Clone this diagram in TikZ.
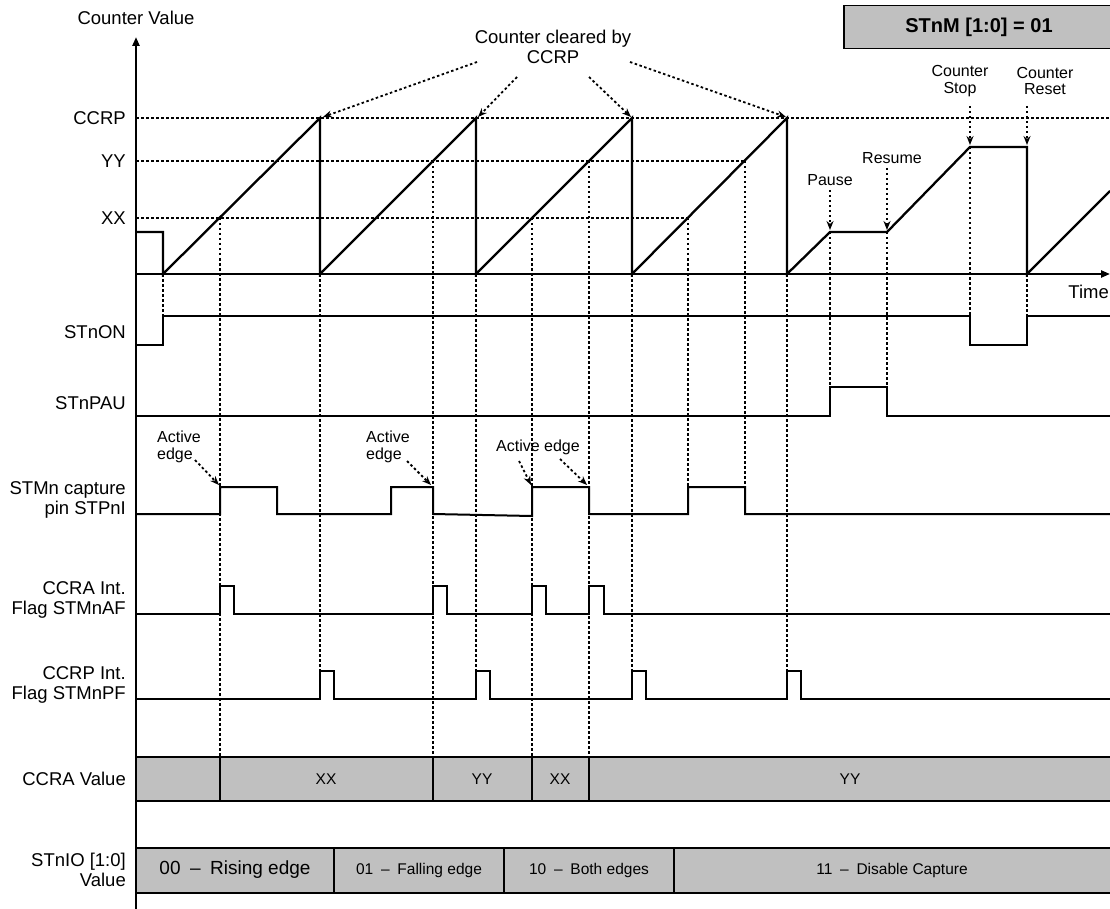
\documentclass[tikz,border=0pt]{standalone}
\usepackage{fontspec}
\setmainfont{Liberation Sans}
\usetikzlibrary{arrows.meta}
\definecolor{boxgray}{RGB}{192,192,192}

\begin{document}
\begin{tikzpicture}[
    x=1pt, y=-1pt,
    axis/.style={line width=2.2pt, -{Triangle[length=9pt,width=7pt]}},
    ramp/.style={line width=2.3pt},
    sig/.style={line width=2pt},
    guide/.style={line width=1.8pt, dash pattern=on 2.5pt off 2.5pt},
    pointer/.style={line width=1.8pt, dash pattern=on 2.5pt off 2.5pt,
                    -{Stealth[length=9pt,width=7pt]}},
    lbl/.style={font=\fontsize{18.5}{20}\selectfont, align=right, anchor=east, inner sep=0pt},
    note/.style={font=\fontsize{16}{16.5}\selectfont, align=center, inner sep=0pt},
    valbox/.style={draw, line width=2pt, fill=boxgray},
    val/.style={font=\fontsize{15.5}{17}\selectfont, inner sep=0pt}
]
  \useasboundingbox (0,0) rectangle (1110,909);

  % Mode box
  \node[draw, fill=boxgray, line width=1.5pt, minimum width=270pt, minimum height=43pt,
        font=\bfseries\fontsize{20}{22}\selectfont] (mode) at (979,27) {STnM [1:0] = 01};

  % Axes
  \draw[axis] (136,909) -- (136,37);
  \draw[axis] (136,274) -- (1110,274);
  \node[font=\fontsize{18.5}{20}\selectfont, inner sep=0pt] (cval) at (136,18) {Counter Value};
  \node[font=\fontsize{18.5}{20}\selectfont, inner sep=0pt, anchor=east] (time) at (1109,292) {Time};

  % Level guides
  \node[lbl] (lccrp) at (126,118) {CCRP};
  \node[lbl] (lyy)   at (126,161) {YY};
  \node[lbl] (lxx)   at (126,218) {XX};
  \draw[guide] (136,118) -- (1110,118);
  \draw[guide] (136,161) -- (745,161);
  \draw[guide] (136,218) -- (688,218);

  % Vertical markers
  \foreach \x/\ya/\yb in {163/274/316, 220/218/757, 320/274/671, 433/161/757,
                          476/274/671, 532/218/757, 589/161/757, 632/274/671,
                          688/218/487, 745/161/487, 787/274/671, 830/232/387,
                          887/232/387, 970/147/316, 1027/274/316}
    \draw[guide] (\x,\ya) -- (\x,\yb);

  % Counter
  \coordinate (pk1) at (320,118);
  \coordinate (pk2) at (476,118);
  \coordinate (pk3) at (632,118);
  \coordinate (pk4) at (787,118);
  \draw[ramp] (136,232) -| (163,274) -- (pk1) -- (320,274) -- (pk2) -- (476,274)
              -- (pk3) -- (632,274) -- (pk4) -- (787,274) -- (830,232) -- (887,232)
              -- (970,147) -- (1027,147) -- (1027,274) -- (1110,191);

  % Counter cleared by CCRP
  \node[font=\fontsize{18.5}{20}\selectfont, align=center, inner sep=0pt] (clr) at (553,47)
       {Counter cleared by\\CCRP};
  \coordinate (c1) at (477,62);
  \coordinate (c2) at (517,77);
  \coordinate (c3) at (589,77);
  \coordinate (c4) at (630,62);
  \draw[pointer] (c1) -- ([shift={(3,-1)}]pk1);
  \draw[pointer] (c2) -- ([shift={(2,-1)}]pk2);
  \draw[pointer] (c3) -- ([shift={(-1,-1)}]pk3);
  \draw[pointer] (c4) -- ([shift={(-1,-1)}]pk4);

  % Pause, resume, stop, reset
  \node[note] (pause)  at (830,180) {Pause};
  \node[note] (resume) at (892,158) {Resume};
  \node[note] (stop)   at (960,81)  {Counter\\Stop};
  \node[note] (reset)  at (1045,81) {Counter\\Reset};
  \coordinate (tpause)  at (830,230);
  \coordinate (tresume) at (887,230);
  \coordinate (tstop)   at (970,145);
  \coordinate (treset)  at (1027,145);
  \draw[pointer] (830,190) -- (tpause);
  \draw[pointer] (887,168) -- (tresume);
  \draw[pointer] (970,106) -- (tstop);
  \draw[pointer] (1027,106) -- (treset);

  % STnON
  \node[lbl] (lon) at (126,332) {STnON};
  \draw[sig] (136,345) -| (163,316) -| (970,345) -| (1027,316) -- (1110,316);

  % STnPAU
  \node[lbl] (lpau) at (126,403) {STnPAU};
  \draw[sig] (136,416) -| (830,387) -| (887,416) -- (1110,416);

  % Capture pin
  \node[lbl] (lpin) at (126,500) {STMn capture\\pin STPnI};
  \draw[sig] (136,514) -| (220,487) -| (277,514) -| (391,487) -| (433,514)
             -- (532,516) -- (532,487) -| (589,514) -| (688,487) -| (745,514) -- (1110,514);

  % Active edges
  \node[note, anchor=west, align=left] (act1) at (157,447) {Active\\edge};
  \node[note, anchor=west, align=left] (act2) at (366,447) {Active\\edge};
  \node[note] (act3) at (538,447) {Active edge};
  \coordinate (e1) at (219,485);
  \coordinate (e2) at (431,485);
  \coordinate (e3) at (531,485);
  \coordinate (e4) at (587,485);
  \draw[pointer] (195,460) -- (e1);
  \draw[pointer] (407,461) -- (e2);
  \draw[pointer] (519,461) -- (e3);
  \draw[pointer] (560,459) -- (e4);

  % CCRA flag
  \node[lbl] (laf) at (126,600) {CCRA Int.\\Flag STMnAF};
  \draw[sig] (136,614) -| (220,586) -| (234,614) -| (433,586) -| (447,614)
             -| (532,586) -| (546,614) -| (589,586) -| (604,614) -- (1110,614);

  % CCRP flag
  \node[lbl] (lpf) at (126,685) {CCRP Int.\\Flag STMnPF};
  \draw[sig] (136,699) -| (320,671) -| (334,699) -| (476,671) -| (490,699)
             -| (632,671) -| (646,699) -| (787,671) -| (801,699) -- (1110,699);

  % CCRA value
  \node[lbl] (lccra) at (126,779) {CCRA Value};
  \draw[valbox] (136,757) rectangle (1114,801);
  \foreach \x in {220,433,532,589}
    \draw[line width=2pt] (\x,757) -- (\x,801);
  \node[val] (va1) at (326,779) {XX};
  \node[val] (va2) at (482,779) {YY};
  \node[val] (va3) at (560,779) {XX};
  \node[val] (va4) at (850,779) {YY};

  % STnIO value
  \node[lbl] (lio) at (126,870) {STnIO [1:0]\\Value};
  \draw[valbox] (136,848) rectangle (1114,893);
  \foreach \x in {334,504,674}
    \draw[line width=2pt] (\x,848) -- (\x,893);
  \node[val, font=\fontsize{19}{21}\selectfont] (io0) at (235,870) {00\enspace–\enspace Rising edge};
  \node[val] (io1) at (419,870) {01\enspace–\enspace Falling edge};
  \node[val] (io2) at (589,870) {10\enspace–\enspace Both edges};
  \node[val] (io3) at (892,870) {11\enspace–\enspace Disable Capture};
\end{tikzpicture}
\end{document}
